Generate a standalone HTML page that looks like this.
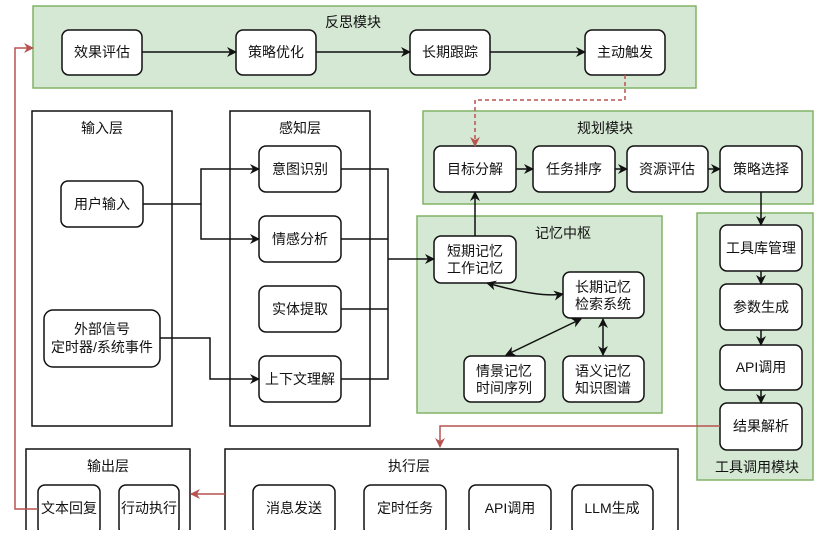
<!DOCTYPE html>
<html><head><meta charset="utf-8"><style>
body{margin:0;background:#fff}
text{font-family:"Liberation Sans","Noto Sans CJK SC",sans-serif;font-size:14px;fill:#111;text-anchor:middle;dominant-baseline:central}
</style></head><body>
<svg width="817" height="530" viewBox="0 0 817 530" xmlns="http://www.w3.org/2000/svg">
<defs>
<marker id="a" markerWidth="10" markerHeight="10" refX="9" refY="5" orient="auto" markerUnits="userSpaceOnUse"><path d="M0,0 L10,5 L0,10 L3,5z" fill="#111"/></marker>
<marker id="as" markerWidth="10" markerHeight="10" refX="1" refY="5" orient="auto" markerUnits="userSpaceOnUse"><path d="M10,0 L0,5 L10,10 L7,5z" fill="#111"/></marker>
<marker id="r" markerWidth="10" markerHeight="10" refX="9" refY="5" orient="auto" markerUnits="userSpaceOnUse"><path d="M0,0 L10,5 L0,10 L3,5z" fill="#b85450"/></marker>
</defs>
<g stroke="#82b366" stroke-width="1.5" fill="#d5e8d4">
<rect x="33" y="6" width="663" height="82"/>
<rect x="423" y="111" width="390" height="93"/>
<rect x="417" y="216" width="245" height="197"/>
<rect x="697" y="213" width="116" height="267"/>
</g>
<g stroke="#111" stroke-width="1.5" fill="#fff">
<rect x="32" y="111" width="140" height="315"/>
<rect x="230" y="111" width="140" height="315"/>
<rect x="26" y="449" width="164" height="90"/>
<rect x="225" y="449" width="453" height="90"/>
</g>
<g stroke="#111" stroke-width="1.5" fill="#fff">
<rect x="62" y="30" width="80" height="45" rx="7"/>
<rect x="236" y="30" width="80" height="45" rx="7"/>
<rect x="410" y="30" width="80" height="45" rx="7"/>
<rect x="585" y="30" width="80" height="45" rx="7"/>
<rect x="61" y="181" width="82" height="46" rx="7"/>
<rect x="44" y="310" width="116" height="57" rx="9"/>
<rect x="259" y="146" width="82" height="46" rx="7"/>
<rect x="259" y="216" width="82" height="46" rx="7"/>
<rect x="259" y="286" width="82" height="46" rx="7"/>
<rect x="259" y="356" width="82" height="46" rx="7"/>
<rect x="434" y="146" width="82" height="46" rx="7"/>
<rect x="533" y="146" width="82" height="46" rx="7"/>
<rect x="627" y="146" width="81" height="46" rx="7"/>
<rect x="720" y="146" width="82" height="46" rx="7"/>
<rect x="434" y="236" width="82" height="47" rx="7"/>
<rect x="563" y="272" width="81" height="46" rx="7"/>
<rect x="464" y="356" width="81" height="46" rx="7"/>
<rect x="563" y="356" width="81" height="46" rx="7"/>
<rect x="720" y="225" width="82" height="46" rx="7"/>
<rect x="720" y="284" width="82" height="46" rx="7"/>
<rect x="720" y="345" width="82" height="45" rx="7"/>
<rect x="720" y="403" width="82" height="47" rx="7"/>
<rect x="38" y="485" width="62" height="50" rx="7"/>
<rect x="119" y="485" width="60" height="50" rx="7"/>
<rect x="253" y="485" width="82" height="50" rx="7"/>
<rect x="364" y="485" width="82" height="50" rx="7"/>
<rect x="469" y="485" width="82" height="50" rx="7"/>
<rect x="572" y="485" width="81" height="50" rx="7"/>
</g>
<g stroke="#111" stroke-width="1.5" fill="none">
<path d="M142 52H236" marker-end="url(#a)"/>
<path d="M316 52H410" marker-end="url(#a)"/>
<path d="M490 52H585" marker-end="url(#a)"/>
<path d="M143 204H201V169H259" marker-end="url(#a)"/>
<path d="M201 204V239H259" marker-end="url(#a)"/>
<path d="M160 338H210V379H259" marker-end="url(#a)"/>
<path d="M341 169H388V379H341M341 239H388M341 309H388M388 259H434" marker-end="url(#a)"/>
<path d="M516 169H533" marker-end="url(#a)"/>
<path d="M615 169H627" marker-end="url(#a)"/>
<path d="M708 169H720" marker-end="url(#a)"/>
<path d="M475 236V192" marker-end="url(#a)"/>
<path d="M761 192V225" marker-end="url(#a)"/>
<path d="M761 271V284" marker-end="url(#a)"/>
<path d="M761 330V345" marker-end="url(#a)"/>
<path d="M761 390V403" marker-end="url(#a)"/>
<path d="M487 283Q540 298 563 294" marker-start="url(#as)" marker-end="url(#a)"/>
<path d="M581 319L506 355" marker-start="url(#as)" marker-end="url(#a)"/>
<path d="M603 319V355" marker-start="url(#as)" marker-end="url(#a)"/>
</g>
<g stroke="#b85450" stroke-width="1.5" fill="none">
<path d="M625 75V100H475V146" stroke-dasharray="4,3" marker-end="url(#r)"/>
<path d="M720 426H440V447" marker-end="url(#r)"/>
<path d="M225 494H191" marker-end="url(#r)"/>
<path d="M38 509H15V48H33" marker-end="url(#r)"/>
</g>
<text x="353" y="22">反思模块</text>
<text x="102" y="52">效果评估</text><text x="276" y="52">策略优化</text><text x="450" y="52">长期跟踪</text><text x="625" y="52">主动触发</text>
<text x="102" y="128">输入层</text><text x="300" y="128">感知层</text>
<text x="102" y="204">用户输入</text>
<text x="102" y="329">外部信号</text><text x="102" y="347">定时器/系统事件</text>
<text x="300" y="169">意图识别</text><text x="300" y="239">情感分析</text><text x="300" y="309">实体提取</text><text x="300" y="379">上下文理解</text>
<text x="605" y="128">规划模块</text>
<text x="475" y="169">目标分解</text><text x="574" y="169">任务排序</text><text x="667" y="169">资源评估</text><text x="761" y="169">策略选择</text>
<text x="563" y="233">记忆中枢</text>
<text x="475" y="251">短期记忆</text><text x="475" y="268">工作记忆</text>
<text x="603" y="287">长期记忆</text><text x="603" y="304">检索系统</text>
<text x="504" y="371">情景记忆</text><text x="504" y="388">时间序列</text>
<text x="603" y="371">语义记忆</text><text x="603" y="388">知识图谱</text>
<text x="761" y="248">工具库管理</text><text x="761" y="307">参数生成</text><text x="761" y="367">API调用</text><text x="761" y="426">结果解析</text>
<text x="757" y="467">工具调用模块</text>
<text x="108" y="466">输出层</text><text x="409" y="466">执行层</text>
<text x="69" y="508">文本回复</text><text x="149" y="508">行动执行</text>
<text x="294" y="508">消息发送</text><text x="405" y="508">定时任务</text><text x="510" y="508">API调用</text><text x="612" y="508">LLM生成</text>
</svg>
</body></html>
